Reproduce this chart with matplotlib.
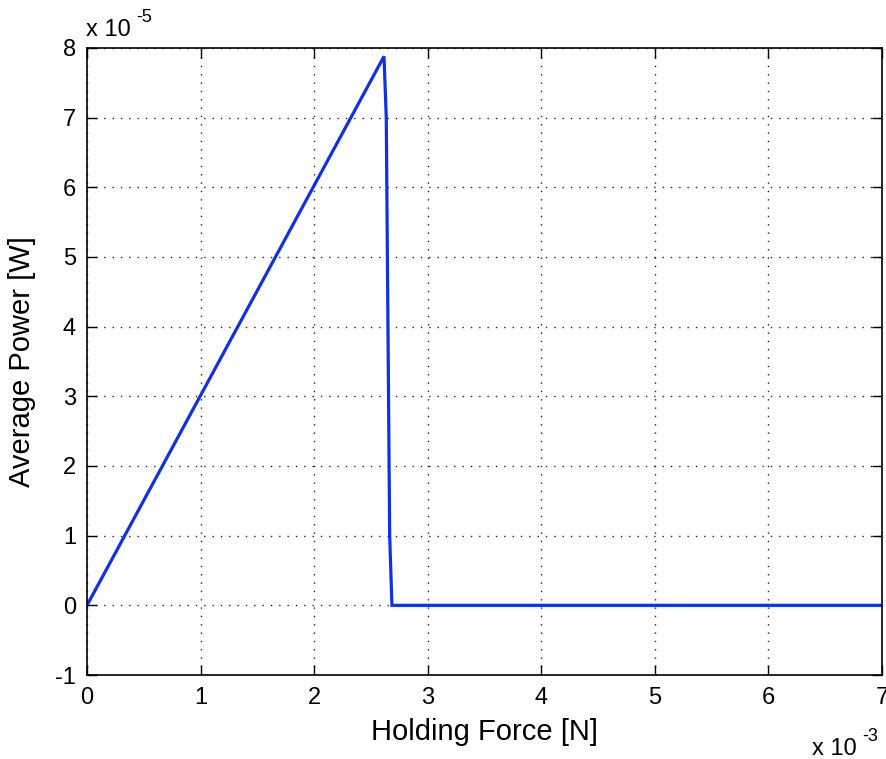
import matplotlib
matplotlib.use('Agg')
import matplotlib.pyplot as plt
from matplotlib.ticker import FuncFormatter, MultipleLocator

plt.rcParams['font.family'] = ['Liberation Sans', 'DejaVu Sans']

# holding force [N] and average power [W]
force = [0.0, 2.615e-3, 2.635e-3, 2.665e-3, 2.685e-3, 7.0e-3]
power = [0.0, 7.88e-5, 7.0e-5, 1.0e-5, 0.0, 0.0]

xscale = 1e-3
yscale = 1e-5

fig = plt.figure(figsize=(8.87, 7.59), dpi=100)
ax = fig.add_axes([87/887, 1 - 675/759, 795/887, 627/759])

ax.plot(force, power, color='#1030e8', lw=2.3, solid_joinstyle='miter')

ax.set_xlim(0, 7 * xscale)
ax.set_ylim(-1 * yscale, 8 * yscale)
ax.xaxis.set_major_locator(MultipleLocator(xscale))
ax.yaxis.set_major_locator(MultipleLocator(yscale))
ax.xaxis.set_major_formatter(FuncFormatter(lambda v, p: '%g' % round(v / xscale, 6)))
ax.yaxis.set_major_formatter(FuncFormatter(lambda v, p: '%g' % round(v / yscale, 6)))

ax.grid(True, color='#222222', linestyle=(0, (1, 5)), linewidth=1.0)
ax.tick_params(direction='in', top=True, right=True, length=7, width=1,
               labelsize=17)
ax.tick_params(axis='x', pad=9)
ax.tick_params(axis='y', pad=8)
for s in ax.spines.values():
    s.set_linewidth(1.2)

ax.set_xlabel('Holding Force [N]', fontsize=21, labelpad=6)
ax.set_ylabel('Average Power [W]', fontsize=21, labelpad=14)

# exponent labels, MATLAB style
fig.text(86/887, 1 - 36/759, 'x 10', fontsize=17, va='baseline', ha='left')
fig.text(136/887, 1 - 22/759, '-5', fontsize=13, va='baseline', ha='left')
fig.text(812/887, 1 - 755/759, 'x 10', fontsize=17, va='baseline', ha='left')
fig.text(862/887, 1 - 741/759, '-3', fontsize=13, va='baseline', ha='left')

fig.savefig('out.png', dpi=100)
